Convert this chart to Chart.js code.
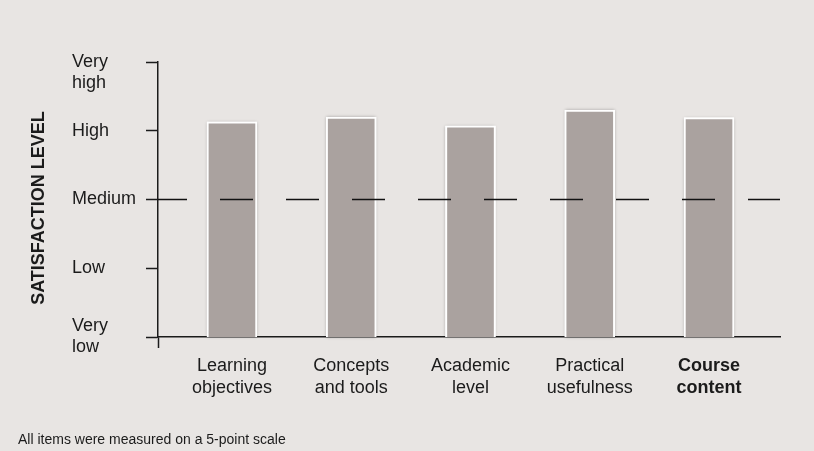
<!doctype html>
<html lang="en-US">
<head>
    <title>Course satisfaction</title>
    <meta charset="UTF-8" />
    <style>
        body { margin: 0; background: #e8e5e3; }
    </style>
</head>
<body>
<canvas id="myChart" width="814" height="451"></canvas>
<script src="https://cdn.jsdelivr.net/npm/chart.js"></script>

<script>
    // values (1 = very low ... 5 = very high)
    const categories = [['Learning', 'objectives'], ['Concepts', 'and tools'], ['Academic', 'level'], ['Practical', 'usefulness'], ['Course', 'content']];
    const scores = [4.13, 4.2, 4.07, 4.3, 4.19];
    const levelLabels = [['Very', 'low'], 'Low', 'Medium', 'High', ['', 'Very', 'high']];
    const mediumLevel = 3;
    const yTitle = 'SATISFACTION LEVEL';
    const footnote = 'All items were measured on a 5-point scale';

    const xMin = -0.62, xMax = 4.595;
    const font = 'Helvetica, "Liberation Sans", Arial, sans-serif';
    const ink = '#1b1b1b';

    const ctx = document.getElementById('myChart');

    // soft shadow behind each bar's white frame
    const barShadow = {
        id: 'barShadow',
        beforeDatasetDraw(chart, args) {
            if (args.meta.type !== 'bar') return;
            const c = chart.ctx;
            const bottom = chart.chartArea.bottom;
            c.save();
            c.shadowColor = 'rgba(0,0,0,0.35)';
            c.shadowBlur = 3;
            c.fillStyle = '#ffffff';
            args.meta.data.forEach(bar => {
                const p = bar.getProps(['x', 'y', 'base', 'width'], true);
                c.fillRect(p.x - p.width / 2, p.y, p.width, Math.min(p.base, bottom) - p.y);
            });
            c.restore();
        }
    };

    // rotated axis title and the footnote
    const extraText = {
        id: 'extraText',
        afterDraw(chart) {
            const c = chart.ctx;
            c.save();
            c.fillStyle = ink;
            c.font = 'bold 18px ' + font;
            c.textAlign = 'center';
            c.textBaseline = 'middle';
            c.translate(39, 208);
            c.rotate(-Math.PI / 2);
            c.fillText(yTitle, 0, 0);
            c.restore();

            c.save();
            c.fillStyle = ink;
            c.font = '14px ' + font;
            c.textAlign = 'left';
            c.textBaseline = 'middle';
            c.fillText(footnote, 18, 440);
            c.restore();
        }
    };

    chart = new Chart(ctx, {
        data: {
            datasets: [{
                type: 'line',
                data: [{x: xMin, y: mediumLevel}, {x: xMax, y: mediumLevel}],
                borderColor: '#111',
                borderWidth: 1.4,
                borderDash: [33, 33],
                borderDashOffset: 4,
                pointRadius: 0,
                order: 0
            }, {
                type: 'bar',
                data: scores.map((v, i) => ({x: i, y: v})),
                backgroundColor: '#aaa29f',
                borderColor: '#ffffff',
                borderWidth: 2,
                borderSkipped: false,
                barThickness: 50,
                order: 1
            }]
        },
        options: {
            responsive: false,
            animation: false,
            layout: { padding: { left: 72, right: 34, top: 62, bottom: 0 } },
            plugins: {
                legend: { display: false },
                tooltip: { enabled: false }
            },
            scales: {
                x: {
                    type: 'linear',
                    min: xMin,
                    max: xMax,
                    offset: false,
                    afterBuildTicks: (scale) => {
                        scale.ticks = [xMin, 0, 1, 2, 3, 4].map(v => ({value: v}));
                    },
                    afterFit: (scale) => { scale.height = 114; },
                    grid: {
                        offset: false,
                        drawOnChartArea: false,
                        tickLength: 11,
                        tickWidth: 1.5,
                        color: (c) => (c.tick && c.tick.value === xMin) ? ink : 'rgba(0,0,0,0)'
                    },
                    border: { display: true, color: ink, width: 1.5 },
                    ticks: {
                        padding: 8,
                        color: ink,
                        maxRotation: 0,
                        autoSkip: false,
                        font: (c) => ({
                            family: font,
                            size: 18,
                            lineHeight: 1.17,
                            weight: (c.tick && c.tick.value === 4) ? 'bold' : 'normal'
                        }),
                        callback: (value) => Number.isInteger(value) ? categories[value] : ''
                    }
                },
                y: {
                    min: 1,
                    max: 5,
                    afterFit: (scale) => { scale.width = 86; },
                    grid: {
                        drawOnChartArea: false,
                        tickLength: 12,
                        tickWidth: 1.5,
                        color: ink
                    },
                    border: { display: true, color: ink, width: 1.5 },
                    ticks: {
                        stepSize: 1,
                        padding: 8,
                        crossAlign: 'far',
                        color: ink,
                        font: { family: font, size: 18, lineHeight: 1.17 },
                        callback: (value) => levelLabels[value - 1]
                    }
                }
            }
        },
        plugins: [barShadow, extraText]
    });
</script>
</body>
</html>
